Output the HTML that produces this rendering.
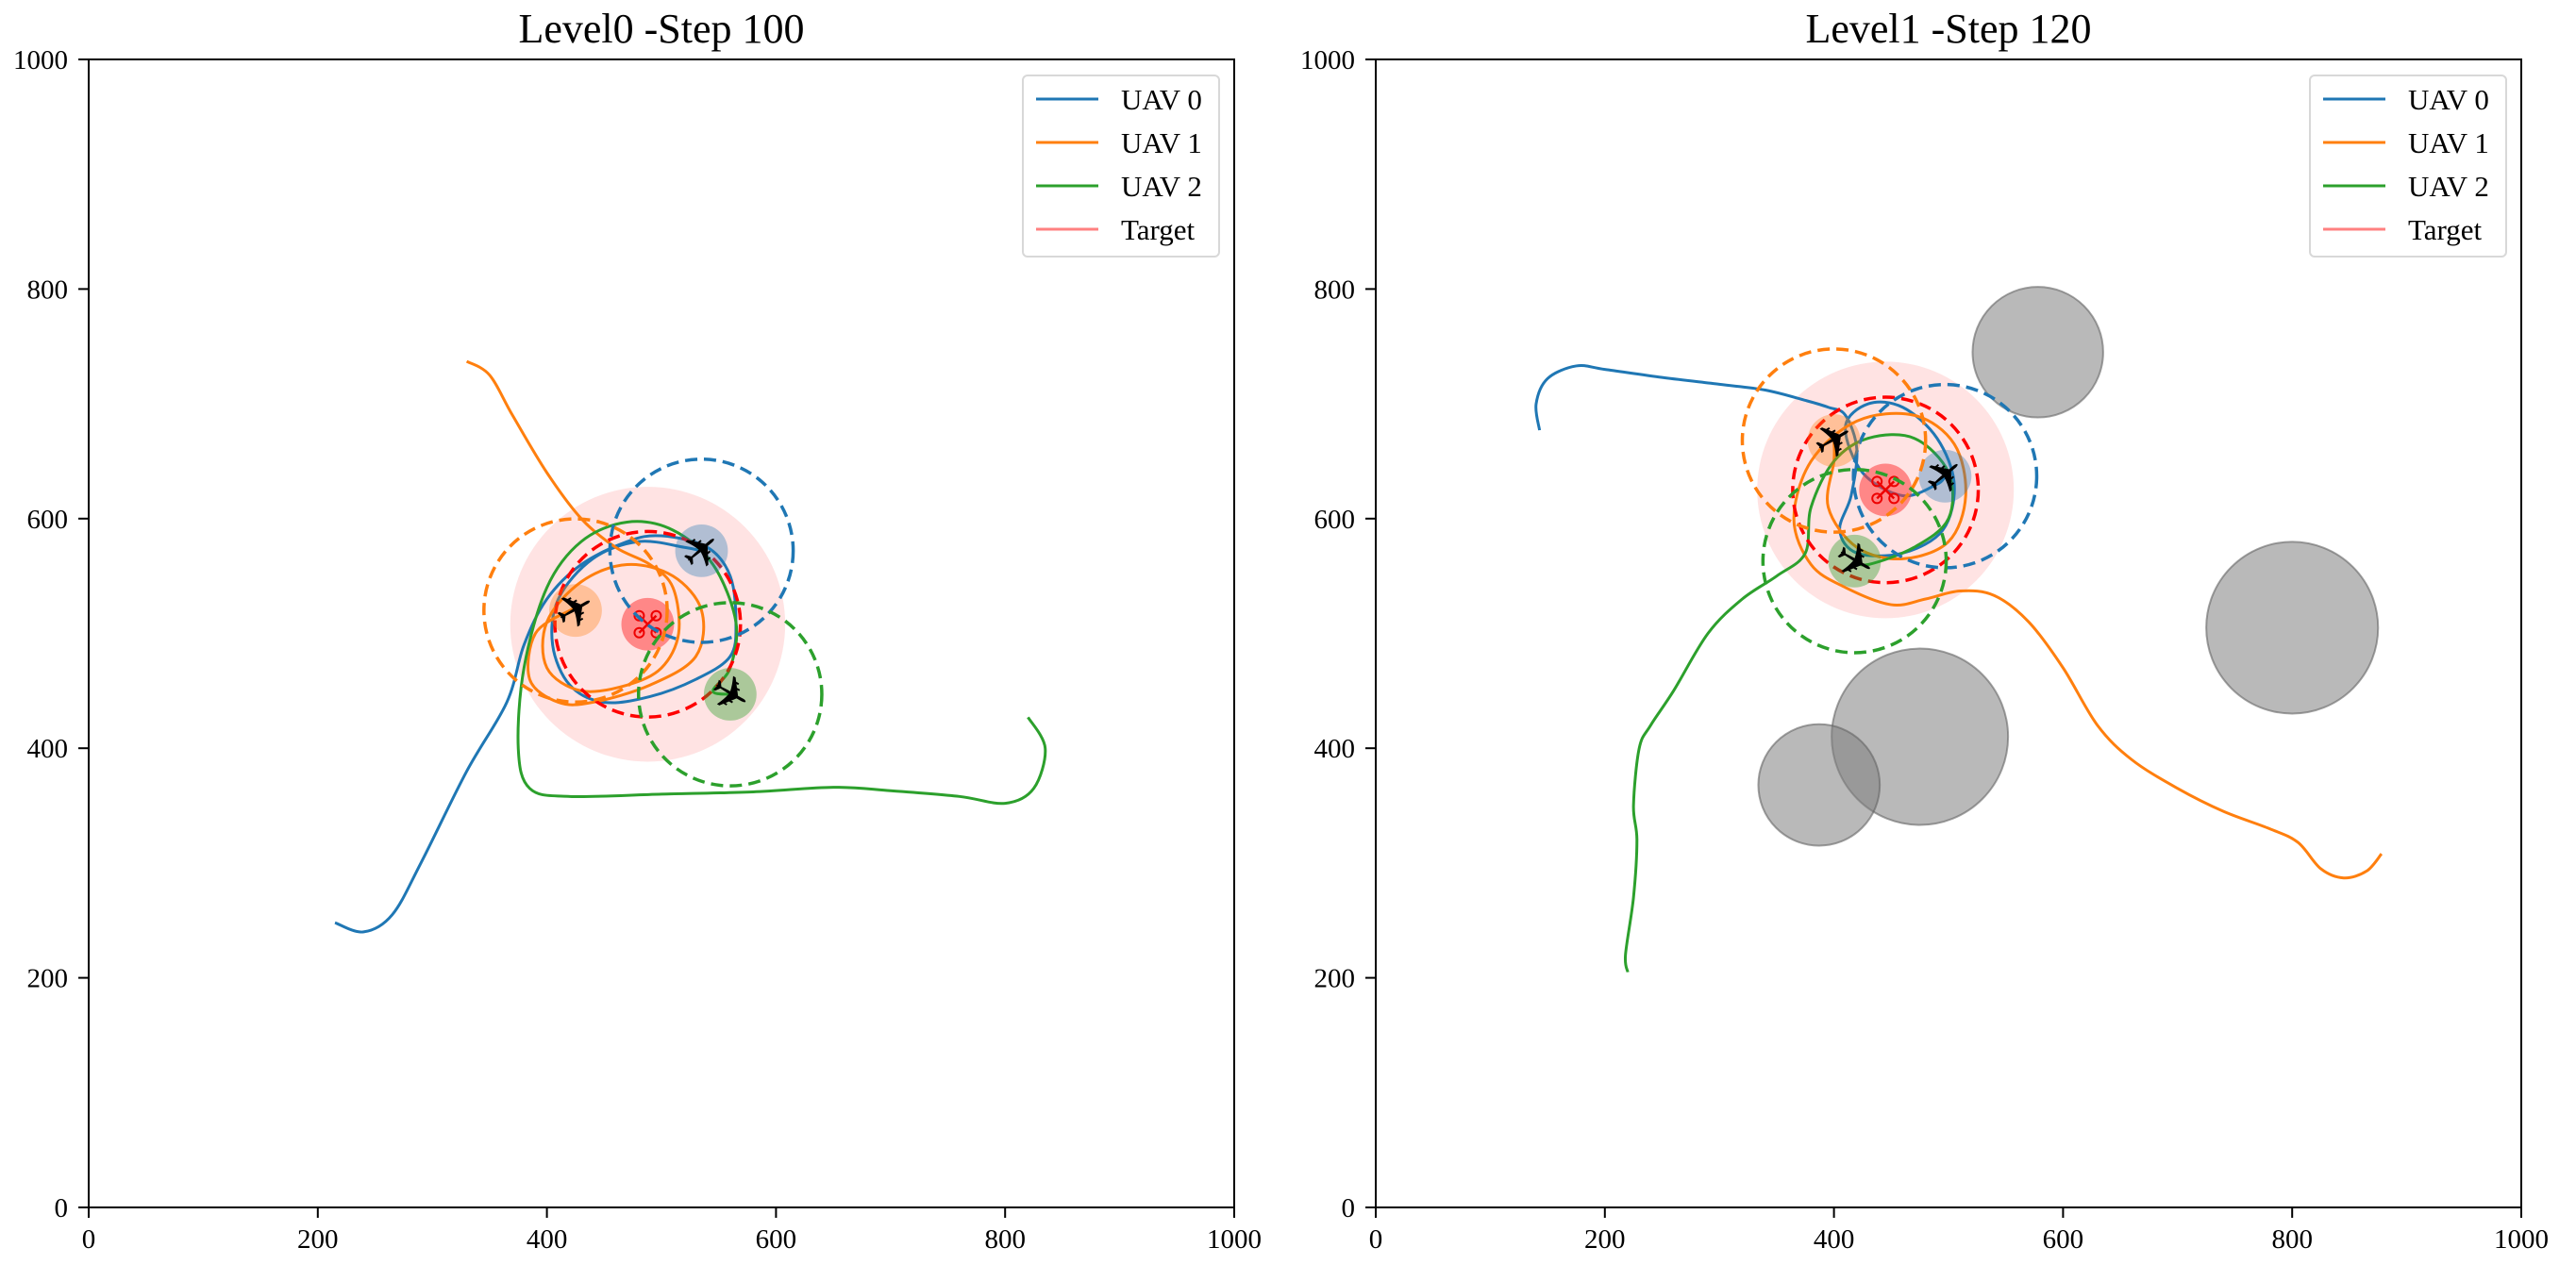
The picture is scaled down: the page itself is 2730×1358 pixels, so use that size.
<!DOCTYPE html>
<html><head><meta charset="utf-8"><style>
html,body{margin:0;padding:0;background:#fff;}
svg{display:block;font-family:"Liberation Serif",serif;}
</style></head><body>
<svg id="fig" width="2730" height="1358" viewBox="0 0 2730 1358" xmlns="http://www.w3.org/2000/svg"></svg>
<script>
// ---- data (data units 0..1000) ----
const ticks = [0,200,400,600,800,1000];
const titles = ["Level0 -Step 100","Level1 -Step 120"];
const legendLabels = ["UAV 0","UAV 1","UAV 2","Target"];
// Left panel
const l_uav0_x = [215,240,265,290,330,365,380,400,430,470,500,540,560,565,560,530,490,450,420,405,410,440,480,520,535];
const l_uav0_y = [248,240,255,300,380,440,490,530,560,580,585,575,550,510,480,460,445,440,455,490,530,565,580,575,572];
const l_uav1_x = [330,350,370,400,430,460,490,510,515,500,470,430,400,400,430,470,510,535,530,490,440,410,385,390,420,425];
const l_uav1_y = [737,725,690,640,600,575,560,540,500,470,455,450,470,510,545,560,550,520,480,455,440,440,460,500,520,520];
const l_uav2_x = [820,835,825,800,760,700,650,580,500,420,385,375,380,400,430,470,510,545,565,560,545,560];
const l_uav2_y = [427,400,365,352,358,363,366,362,360,358,365,400,470,540,580,597,590,560,510,470,450,447];
const l_uavPos_x = [535,425,560];
const l_uavPos_y = [572,520,447];
const l_target = [488,508];
const l_obst_x = [], l_obst_y = [], l_obst_r = [];
// Right panel
const r_uav0_x = [143,140,150,175,200,250,300,340,375,395,410,420,415,405,420,460,495,505,490,460,430,410,425,460,490,497];
const r_uav0_y = [677,700,722,733,730,723,717,712,703,697,690,660,620,590,570,570,590,630,670,697,700,680,640,620,630,637];
const r_uav1_x = [878,865,845,825,805,780,740,700,660,630,600,570,540,510,480,450,410,380,365,380,420,470,505,515,500,460,420,395,400,400];
const r_uav1_y = [308,293,287,295,318,330,345,365,390,420,470,510,533,537,530,525,540,560,600,650,685,690,665,620,580,565,575,610,650,668];
const r_uav2_x = [220,218,225,228,225,230,240,260,290,320,350,375,380,400,430,470,500,500,470,430,418];
const r_uav2_y = [205,220,270,320,350,400,420,450,500,530,550,570,610,650,670,670,640,600,575,560,563];
const r_uavPos_x = [497,400,418];
const r_uavPos_y = [637,668,563];
const r_target = [445,625];
const r_obst_x = [578,800,475,387];
const r_obst_y = [745,505,410,368];
const r_obst_r = [57,75,77,53];

const colors = ["#1f77b4","#ff7f0e","#2ca02c"];
const NS="http://www.w3.org/2000/svg";
const svg=document.getElementById('fig');
function mk(tag,attrs,parent){const e=document.createElementNS(NS,tag);for(const k in attrs)e.setAttribute(k,attrs[k]);(parent||svg).appendChild(e);return e;}

const W=1214,H=1217,TOP=63;
function smooth(pts){
  let d=`M${pts[0][0]},${pts[0][1]}`;
  for(let i=0;i<pts.length-1;i++){
    const p0=pts[Math.max(0,i-1)],p1=pts[i],p2=pts[i+1],p3=pts[Math.min(pts.length-1,i+2)];
    const c1=[p1[0]+(p2[0]-p0[0])/6,p1[1]+(p2[1]-p0[1])/6];
    const c2=[p2[0]-(p3[0]-p1[0])/6,p2[1]-(p3[1]-p1[1])/6];
    d+=` C${c1[0]},${c1[1]} ${c2[0]},${c2[1]} ${p2[0]},${p2[1]}`;
  }
  return d;
}
function panel(idx,x0,tracksX,tracksY,posX,posY,target,ox,oy,orr){
  const sx=v=>x0+v*W/1000, sy=v=>TOP+H-v*H/1000, sr=v=>v*W/1000;
  const g=mk('g',{});
  
  
  const t=mk('text',{x:x0+W/2,y:45,'font-size':44,'text-anchor':'middle',fill:'#000'},g);
  t.textContent=titles[idx];
  
  
  const pk=mk('circle',{cx:sx(target[0]),cy:sy(target[1]),r:sr(idx?112:120),fill:'#ffe3e3'},g);
  
  
  for(let i=0;i<ox.length;i++){
    const c=mk('circle',{cx:sx(ox[i]),cy:sy(oy[i]),r:sr(orr[i]),fill:'rgba(128,128,128,0.55)',stroke:'rgba(100,100,100,0.6)','stroke-width':2},g);
    
    
  }
  for(let k=0;k<3;k++){
    const pts=tracksX[k].map((v,i)=>[sx(v),sy(tracksY[k][i])]);
    const p=mk('path',{d:smooth(pts),fill:'none',stroke:colors[k],'stroke-width':3,'stroke-linejoin':'round'},g);
    
    
  }
  const rd=mk('circle',{cx:sx(target[0]),cy:sy(target[1]),r:sr(81),fill:'none',stroke:'#ff0000','stroke-width':3.5,'stroke-dasharray':'13 7'},g);
  
  
  const tc=mk('circle',{cx:sx(target[0]),cy:sy(target[1]),r:sr(23),fill:'rgba(255,60,60,0.55)'},g);
  
  
  const tx=sx(target[0]),ty=sy(target[1]);
  const q=mk('path',{d:`M${tx-9},${ty-9}L${tx+9},${ty+9}M${tx+9},${ty-9}L${tx-9},${ty+9}`,stroke:'#e00','stroke-width':2.5},g);
  
  
  for(const [a,b] of [[-9,-9],[9,-9],[-9,9],[9,9]]){
    const cc=mk('circle',{cx:tx+a,cy:ty+b,r:5,fill:'none',stroke:'#e00','stroke-width':2},g);
    
    
  }
  const fills=['rgba(31,119,180,0.35)','rgba(255,127,14,0.35)','rgba(44,160,44,0.4)'];
  for(let k=0;k<3;k++){
    const cx=sx(posX[k]),cy=sy(posY[k]);
    const dc=mk('circle',{cx:cx,cy:cy,r:sr(80),fill:'none',stroke:colors[k],'stroke-width':3.5,'stroke-dasharray':'13 7'},g);
    
    
    const fc=mk('circle',{cx:cx,cy:cy,r:sr(23),fill:fills[k]},g);
    
    
    const pl=mk('text',{x:cx,y:cy+17,'font-size':50,'text-anchor':'middle',fill:'#000',transform:`rotate(${[-40,-30,30][k]} ${cx} ${cy})`,'font-family':'DejaVu Sans'},g);
    pl.textContent='✈';
    
    
  }
  const fr=mk('rect',{x:x0,y:TOP,width:W,height:H,fill:'none',stroke:'#000','stroke-width':2},g);
  
  
  for(const v of ticks){
    const xt=mk('line',{x1:sx(v),x2:sx(v),y1:TOP+H,y2:TOP+H+11,stroke:'#000','stroke-width':2},g);
    
    
    const xl=mk('text',{x:sx(v),y:TOP+H+43,'font-size':29,'text-anchor':'middle',fill:'#000'},g);
    xl.textContent=v;
    
    
    const yt=mk('line',{x1:x0-11,x2:x0,y1:sy(v),y2:sy(v),stroke:'#000','stroke-width':2},g);
    
    
    const yl=mk('text',{x:x0-22,y:sy(v)+10,'font-size':29,'text-anchor':'end',fill:'#000'},g);
    yl.textContent=v;
    
    
  }
  const lg=mk('g',{},g);
  
  
  mk('rect',{x:x0+990,y:80,width:208,height:192,rx:5,fill:'#fff',stroke:'#d8d8d8','stroke-width':2},lg);
  const lc=[colors[0],colors[1],colors[2],'#ff8080'];
  for(let i=0;i<4;i++){
    const y=105+i*46;
    const ll=mk('line',{x1:x0+1004,x2:x0+1070,y1:y,y2:y,stroke:lc[i],'stroke-width':3},lg);
    
    
    const lt=mk('text',{x:x0+1094,y:y+11,'font-size':31,fill:'#000'},lg);
    lt.textContent=legendLabels[i];
    
    
  }
}
panel(0,94,[l_uav0_x,l_uav1_x,l_uav2_x],[l_uav0_y,l_uav1_y,l_uav2_y],l_uavPos_x,l_uavPos_y,l_target,l_obst_x,l_obst_y,l_obst_r);
panel(1,1458,[r_uav0_x,r_uav1_x,r_uav2_x],[r_uav0_y,r_uav1_y,r_uav2_y],r_uavPos_x,r_uavPos_y,r_target,r_obst_x,r_obst_y,r_obst_r);
</script>
</body></html>
